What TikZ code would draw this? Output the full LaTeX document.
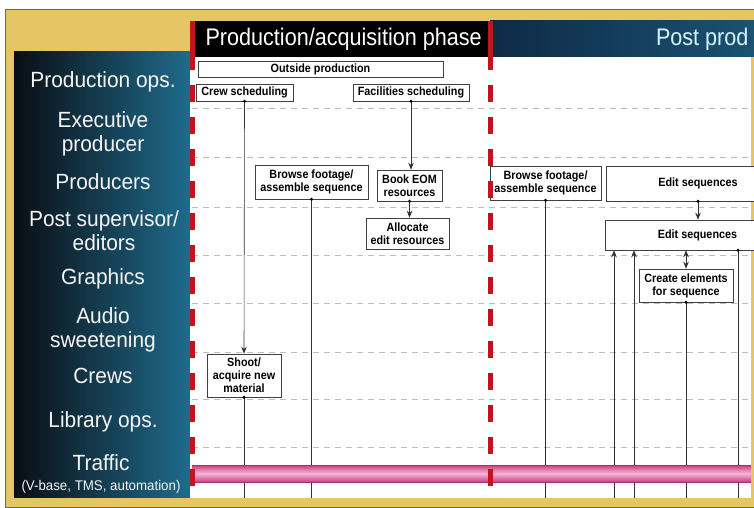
\documentclass[tikz,border=0pt]{standalone}
\usepackage{fontspec}
\setmainfont{Liberation Sans}
\newfontfamily\condfont{Liberation Sans}[FakeStretch=0.9]
\newfontfamily\rolefont{Liberation Sans}[FakeStretch=0.95]
\usetikzlibrary{arrows.meta}
\definecolor{frameyellow}{HTML}{E5C566}
\definecolor{panelblack}{HTML}{0A0E14}
\definecolor{panelblue}{HTML}{1F6B8C}
\definecolor{headnavy}{HTML}{0E2A46}
\definecolor{headblue}{HTML}{1A5272}
\definecolor{phasered}{HTML}{C0141E}
\definecolor{pinkdark}{HTML}{C83C82}
\definecolor{pinklight}{HTML}{F7B8D6}
\definecolor{gridgrey}{HTML}{BDBDBD}
\tikzset{
  task/.style={draw=black!75, fill=white, line width=0.6pt, inner sep=1pt,
    font=\condfont\bfseries\fontsize{12}{13}\selectfont, align=center},
  role/.style={text=white!92!gray, align=center, font=\rolefont\fontsize{22}{24}\selectfont},
  phase/.style={text=white, font=\condfont\fontsize{24}{26}\selectfont},
  lane/.style={gridgrey, dash pattern=on 6pt off 5pt, line width=0.7pt},
  flow/.style={black!80, line width=0.6pt},
  cut/.style={phasered, line width=5pt, dash pattern=on 17pt off 15pt},
  >={Stealth[length=7pt,width=5.5pt]}
}
\begin{document}
\begin{tikzpicture}[x=1pt,y=-1pt]
\useasboundingbox (0,0) rectangle (754,508);
\clip (0,0) rectangle (754,508);
% frame and panels
\fill[white] (0,0) rectangle (754,508);
\draw[fill=frameyellow, draw=black!60, line width=0.8pt] (5,9) rectangle (770,507);
\shade[left color=panelblack, right color=panelblue] (14,52) rectangle (190,497);
\fill[white] (190,57) rectangle (751,498);
\fill[black] (190,21) rectangle (490,57);
\shade[left color=headnavy, right color=headblue] (490,21) rectangle (754,57);
\node[phase, anchor=west] (acq) at (202,39) {Production/acquisition phase};
\node[phase, anchor=east, text=white!85!cyan] (post) at (752,39) {Post prod};
% swim lanes
\foreach \y in {108,157,207,255,303,352,399,447}
  \draw[lane] (192,\y) -- (751,\y);
% roles
\node[role] (prodops) at (103,82) {Production ops.};
\node[role] (execprod) at (103,134) {Executive\\producer};
\node[role] (producers) at (103,182) {Producers};
\node[role] (postsup) at (104,231) {Post supervisor/\\editors};
\node[role] (graphics) at (103,279) {Graphics};
\node[role] (audio) at (103,330) {Audio\\sweetening};
\node[role] (crews) at (103,376) {Crews};
\node[role] (library) at (103,422) {Library ops.};
\node[role] (traffic) at (101,463) {Traffic};
\node[role, font=\rolefont\fontsize{14}{16}\selectfont] (trafficsys) at (101,487) {(V-base, TMS, automation)};
% flow lines
\coordinate (floor) at (0,498);
\coordinate (in1) at (614,498);
\coordinate (in2) at (634,498);
\coordinate (tap) at (738,0);
\node[task, minimum width=97pt, minimum height=17pt] (crew) at (244.5,92.5) {Crew scheduling};
\node[task, minimum width=116pt, minimum height=17pt] (facil) at (411,92.5) {Facilities scheduling};
\node[task, minimum width=74pt, minimum height=43pt] (shoot) at (244,375.5) {Shoot/\\acquire new\\material};
\node[task, minimum width=65pt, minimum height=31pt] (book) at (409.5,185.5) {Book EOM\\resources};
\node[task, minimum width=83pt, minimum height=31pt] (alloc) at (407.5,233.5) {Allocate\\edit resources};
\node[task, minimum width=113pt, minimum height=34pt] (browsea) at (311.5,182) {Browse footage/\\assemble sequence};
\node[task, minimum width=111pt, minimum height=34pt] (browseb) at (545.5,183) {Browse footage/\\assemble sequence};
\node[task, minimum width=184pt, minimum height=35pt] (edita) at (698,183.5) {Edit sequences};
\node[task, minimum width=185pt, minimum height=30pt] (editb) at (697.5,235) {Edit sequences};
\node[task, minimum width=94pt, minimum height=33pt] (create) at (686,285.5) {Create elements\\for sequence};
\node[task, minimum width=245pt, minimum height=16pt] (outside) at (320.5,69) {Outside production};
\draw[flow,->] (crew.south) -- (shoot.north);
\draw[flow] (shoot.south) -- (shoot.south |- floor);
\draw[flow,->] (facil.south) -- (facil.south |- book.north);
\draw[flow,->] (book.south) -- (book.south |- alloc.north);
\draw[flow] (browsea.south) -- (browsea.south |- floor);
\draw[flow] (browseb.south) -- (browseb.south |- floor);
\draw[flow,->] (edita.south) -- (edita.south |- editb.north);
\draw[flow,->] (in1) -- (in1 |- editb.south);
\draw[flow,->] (in2) -- (in2 |- editb.south);
\draw[flow,<->] (create.north) -- (create.north |- editb.south);
\draw[flow] (create.south) -- (create.south |- floor);
\draw[flow] (editb.south -| tap) -- (tap |- floor);
\foreach \p in {crew.south,facil.south,shoot.south,book.south,browsea.south,browseb.south,edita.south,create.south}
  \fill (\p) circle (1.7pt);
\fill (editb.south -| tap) circle (1.7pt);
% traffic bar
\shade[top color=pinkdark, bottom color=pinkdark, middle color=pinklight] (192,465) rectangle (751,482);
\draw[pinkdark!80!black, line width=0.7pt] (192,465) -- (751,465) (192,482) -- (751,482);
% phase cuts
\foreach \x in {192,490}{
  \draw[phasered, line width=5pt] (\x,21) -- (\x,70);
  \draw[cut] (\x,85) -- (\x,498);
}
\end{tikzpicture}
\end{document}
